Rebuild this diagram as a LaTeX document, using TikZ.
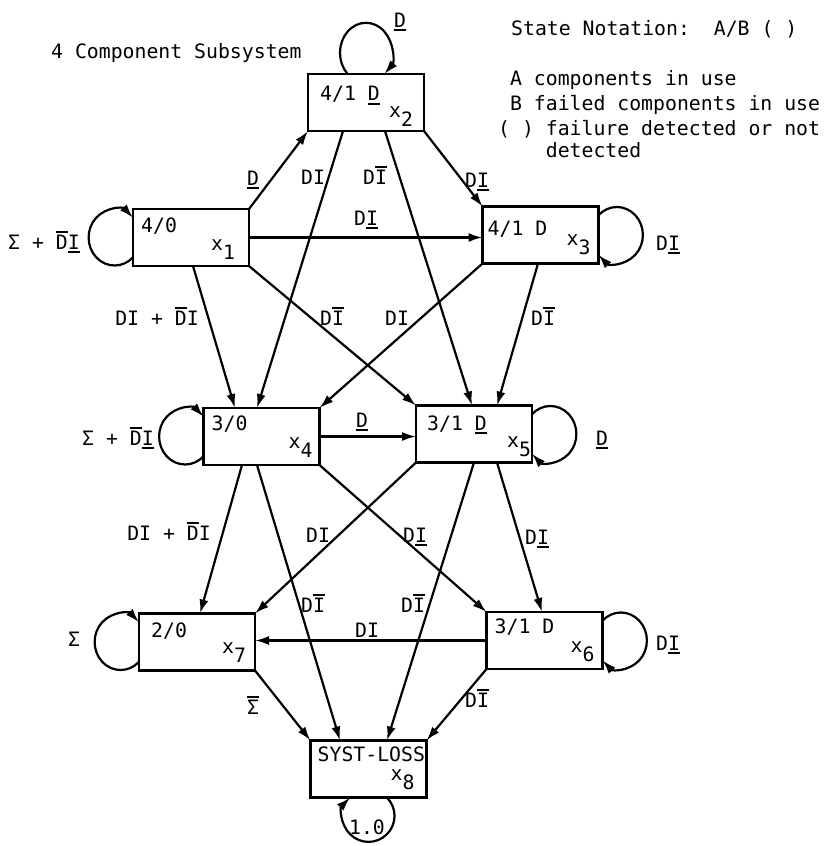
\documentclass[tikz,border=0pt]{standalone}
\usepackage{fontspec}
\setmainfont{DejaVu Sans Mono}
\usetikzlibrary{arrows.meta}
\newcommand{\ovl}[1]{\leavevmode\vbox{\hrule height 1.8pt\kern 1.6pt\hbox{#1}}}
\newcommand{\unl}[1]{\leavevmode\vtop{\hbox{#1}\kern 2.2pt\hrule height 1.8pt}}
\begin{document}
\begin{tikzpicture}[x=1pt,y=1pt,
  sbox/.style={draw,rectangle,line width=2.8pt,minimum width=116pt,minimum height=57pt,inner sep=0pt,outer sep=0pt},
  txt/.style={inner sep=0pt,font=\fontsize{19.8}{24}\selectfont},
  lbl/.style={txt,anchor=base},
  arr/.style={line width=2.2pt,-{Latex[length=14pt,width=9pt]}}]
\useasboundingbox (0,0) rectangle (828,-846);
% boxes
\node[sbox] (x1) at (191,-237.5) {};
\node[sbox] (x2) at (366,-102.5) {};
\node[sbox] (x3) at (540.5,-235) {};
\node[sbox] (x4) at (261.5,-436.5) {};
\node[sbox] (x5) at (474,-434) {};
\node[sbox] (x6) at (544.5,-640.5) {};
\node[sbox] (x7) at (197,-642) {};
\node[sbox] (x8) at (368.5,-769) {};
% box texts
\node[txt,anchor=base west] (t1) at ([shift={(-50,5)}]x1.center) {4/0};
\node[txt,anchor=base west] (t2) at ([shift={(-46,2)}]x2.center) {4/1 \unl{D}};
\node[txt,anchor=base west] (t3) at ([shift={(-53,0)}]x3.center) {4/1 D};
\node[txt,anchor=base west] (t4) at ([shift={(-50,6)}]x4.center) {3/0};
\node[txt,anchor=base west] (t5) at ([shift={(-47,4)}]x5.center) {3/1 \unl{D}};
\node[txt,anchor=base west] (t6) at ([shift={(-50,7)}]x6.center) {3/1 D};
\node[txt,anchor=base west] (t7) at ([shift={(-46,5)}]x7.center) {2/0};
\node[txt,anchor=base west] (t8) at ([shift={(-51,8)}]x8.center) {SYST-LOSS};
\node[txt,anchor=base west] (s1) at ([shift={(20,-12.5)}]x1.center) {x\raisebox{-0.5em}{1}};
\node[txt,anchor=base west] (s2) at ([shift={(23,-14.5)}]x2.center) {x\raisebox{-0.5em}{2}};
\node[txt,anchor=base west] (s3) at ([shift={(26,-10)}]x3.center) {x\raisebox{-0.5em}{3}};
\node[txt,anchor=base west] (s4) at ([shift={(27,-11.5)}]x4.center) {x\raisebox{-0.5em}{4}};
\node[txt,anchor=base west] (s5) at ([shift={(33,-13)}]x5.center) {x\raisebox{-0.5em}{5}};
\node[txt,anchor=base west] (s6) at ([shift={(26,-11.5)}]x6.center) {x\raisebox{-0.5em}{6}};
\node[txt,anchor=base west] (s7) at ([shift={(25,-11)}]x7.center) {x\raisebox{-0.5em}{7}};
\node[txt,anchor=base west] (s8) at ([shift={(22,-11)}]x8.center) {x\raisebox{-0.5em}{8}};
% edges
\draw[arr] (x1.north east) -- (x2.south west);
\draw[arr] (x1.east) -- (x1.east -| x3.west);
\draw[arr] (x2.south east) -- (x3.north west);
\draw[arr] ([xshift=-23pt]x2.south) -- ([xshift=-4.5pt]x4.north);
\draw[arr] ([xshift=19pt]x2.south) -- ([xshift=-2pt]x5.north);
\draw[arr] ([xshift=2pt]x1.south) -- ([xshift=-26.5pt]x4.north);
\draw[arr] (x1.south east) -- (x5.north west);
\draw[arr] (x3.south west) -- (x4.north east);
\draw[arr] ([xshift=-2.5pt]x3.south) -- ([xshift=23pt]x5.north);
\draw[arr] (x4.east) -- (x4.east -| x5.west);
\draw[arr] ([xshift=-19.5pt]x4.south) -- ([xshift=3pt]x7.north);
\draw[arr] ([xshift=-4.5pt]x4.south) -- ([xshift=-28.5pt]x8.north);
\draw[arr] (x4.south east) -- (x6.north west);
\draw[arr] (x5.south west) -- (x7.north east);
\draw[arr] (x5.south) -- ([xshift=18.5pt]x8.north);
\draw[arr] ([xshift=23pt]x5.south) -- ([xshift=-2.5pt]x6.north);
\draw[arr] (x6.west) -- (x6.west -| x7.east);
\draw[arr] (x6.south west) -- (x8.north east);
\draw[arr] (x7.south east) -- (x8.north west);
% loops
\draw[arr] ([xshift=-18.4pt]x2.north) arc[start angle=225,end angle=-45,x radius=26,y radius=30];
\draw[arr] ([yshift=-19.8pt]x1.west) arc[start angle=-45,end angle=-315,x radius=26,y radius=28];
\draw[arr] ([yshift=-19.8pt]x4.west) arc[start angle=-45,end angle=-315,x radius=26,y radius=28];
\draw[arr] ([yshift=-19.8pt]x7.west) arc[start angle=-45,end angle=-315,x radius=26,y radius=28];
\draw[arr] ([yshift=19.8pt]x3.east) arc[start angle=135,end angle=-135,x radius=26,y radius=28];
\draw[arr] ([yshift=19.8pt]x5.east) arc[start angle=135,end angle=-135,x radius=26,y radius=28];
\draw[arr] ([yshift=19.8pt]x6.east) arc[start angle=135,end angle=-135,x radius=26,y radius=28];
\draw[arr] ([xshift=18.4pt]x8.south) arc[start angle=45,end angle=-225,x radius=26,y radius=26];
% edge labels
\node[lbl] (l12) at (253,-185) {\unl{D}};
\node[lbl] (l24) at (313,-184) {DI};
\node[lbl] (l25) at (375,-184) {D\ovl{I}};
\node[lbl] (l23) at (477,-187) {D\unl{I}};
\node[lbl] (l13) at (366,-225) {D\unl{I}};
\node[lbl] (l14) at (157,-325) {DI + \ovl{D}I};
\node[lbl] (l15) at (332,-325) {D\ovl{I}};
\node[lbl] (l34) at (397,-325) {DI};
\node[lbl] (l35) at (543,-325) {D\ovl{I}};
\node[lbl] (l45) at (362,-427) {\unl{D}};
\node[lbl] (l47) at (169,-540) {DI + \ovl{D}I};
\node[lbl] (l57) at (318,-542) {DI};
\node[lbl] (l46) at (415,-542) {D\unl{I}};
\node[lbl] (l56) at (537,-544) {D\unl{I}};
\node[lbl] (l48) at (313,-612) {D\ovl{I}};
\node[lbl] (l58) at (413,-612) {D\ovl{I}};
\node[lbl] (l67) at (367,-637) {DI};
\node[lbl] (l68) at (477,-707) {D\ovl{I}};
\node[lbl] (l78) at (253,-714) {\ovl{Σ}};
% loop labels
\node[lbl] (o2) at (400,-27) {\unl{D}};
\node[lbl] (o1) at (44,-249) {Σ + \ovl{D}\unl{I}};
\node[lbl] (o3) at (668,-250) {D\unl{I}};
\node[lbl] (o4) at (118,-445) {Σ + \ovl{D}\unl{I}};
\node[lbl] (o5) at (602,-445) {\unl{D}};
\node[lbl] (o7) at (74,-646) {Σ};
\node[lbl] (o6) at (668,-650) {D\unl{I}};
\node[lbl] (o8) at (367,-834) {1.0};
% texts
\node[txt,anchor=base west] (title) at (51,-58) {4 Component Subsystem};
\node[txt,anchor=base west] (sn) at (511,-35) {State Notation:~~A/B (~)};
\node[txt,anchor=base west] (na) at (498,-85) {~A components in use};
\node[txt,anchor=base west] (nb) at (498,-110) {~B failed components in use};
\node[txt,anchor=base west] (nc) at (498,-135) {(~) failure detected or not};
\node[txt,anchor=base west] (nd) at (498,-157) {~~~~detected};
\end{tikzpicture}
\end{document}
